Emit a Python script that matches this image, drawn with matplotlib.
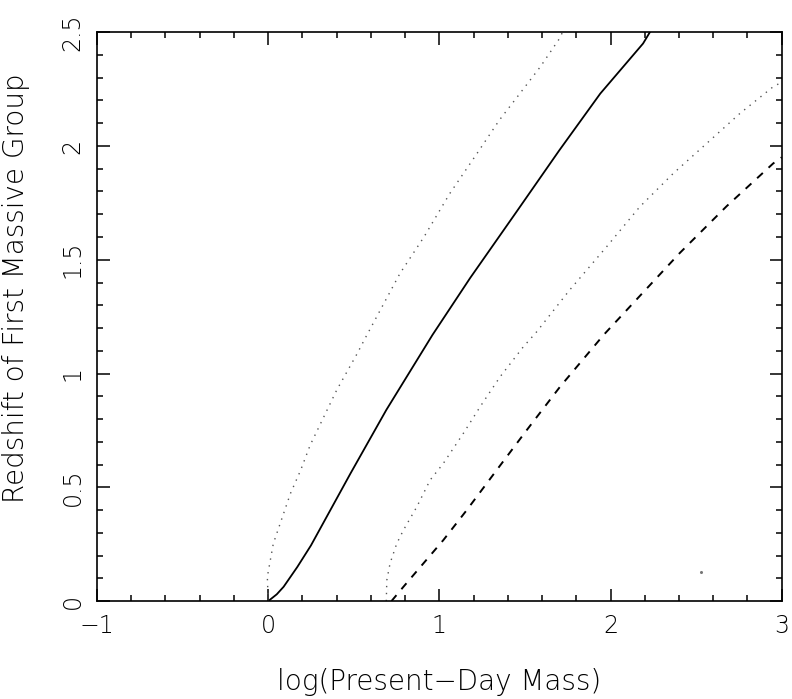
import numpy as np
import matplotlib
matplotlib.use("Agg")
import matplotlib.pyplot as plt
from matplotlib.ticker import MultipleLocator

# values
solid_x = [0.0, 0.05, 0.09, 0.17, 0.25, 0.48, 0.69, 0.96, 1.18, 1.45, 1.70, 1.94, 2.19, 2.23]
solid_y = [0.0, 0.03, 0.063, 0.15, 0.245, 0.56, 0.84, 1.17, 1.42, 1.71, 1.98, 2.23, 2.45, 2.5]

dot_left_x = [0.0, -0.005, 0.03, 0.09, 0.13, 0.19, 0.245, 0.40, 0.52, 0.57,
              0.77, 0.91, 1.06, 1.22, 1.35, 1.47, 1.59, 1.70, 1.72]
dot_left_y = [0.0, 0.107, 0.253, 0.385, 0.473, 0.576, 0.685, 0.927, 1.088, 1.16,
              1.44, 1.60, 1.79, 1.967, 2.113, 2.23, 2.348, 2.47, 2.5]

dot_right_x = [0.69, 0.693, 0.712, 0.751, 0.79, 0.868, 0.946, 1.023, 1.14, 1.238,
               1.354, 1.49, 1.568, 1.76, 1.977, 2.17, 2.366, 2.56, 2.756, 2.95, 3.0]
dot_right_y = [0.0, 0.092, 0.166, 0.253, 0.312, 0.414, 0.532, 0.605, 0.737, 0.854,
               0.985, 1.117, 1.183, 1.366, 1.557, 1.732, 1.879, 2.01, 2.143, 2.26, 2.28]

dash_x = [0.72, 0.79, 0.907, 1.023, 1.16, 1.335, 1.51, 1.705, 1.96, 2.17, 2.405, 2.678, 2.95, 3.0]
dash_y = [0.0, 0.063, 0.166, 0.268, 0.40, 0.576, 0.751, 0.942, 1.17, 1.34, 1.53, 1.735, 1.923, 1.95]

stray_x = [2.53]
stray_y = [0.13]

x_ticks = [-1, 0, 1, 2, 3]
y_ticks = [0, 0.5, 1, 1.5, 2, 2.5]
y_ticklabels = ["0", "0.5", "1", "1.5", "2", "2.5"]

plt.rcParams['font.family'] = ['DejaVu Sans']
plt.rcParams['font.weight'] = 'light'
plt.rcParams['axes.labelweight'] = 'light'

fig = plt.figure(figsize=(7.92, 6.99), dpi=100)
ax = fig.add_axes([0.1225, 0.140, 0.8645, 0.814])

ax.plot(solid_x, solid_y, color='black', lw=1.3)
ax.plot(dot_left_x, dot_left_y, color='#555555', lw=1.0, linestyle=(0, (1, 4)))
ax.plot(dot_right_x, dot_right_y, color='#555555', lw=1.0, linestyle=(0, (1, 4)))
ax.plot(dash_x, dash_y, color='black', lw=1.4, linestyle=(0, (4, 4)))
ax.plot(stray_x, stray_y, 'o', color='#777777', ms=1.2)

ax.set_xlim(-1, 3)
ax.set_ylim(0, 2.5)
ax.set_xticks(x_ticks)
ax.set_xticklabels([str(v).replace('-', '\u2212') for v in x_ticks])
ax.set_yticks(y_ticks)
ax.set_yticklabels(y_ticklabels, rotation=90, va='center')
ax.xaxis.set_minor_locator(MultipleLocator(0.2))
ax.yaxis.set_minor_locator(MultipleLocator(0.1))

ax.tick_params(which='both', direction='in', top=True, right=True, width=1.1, labelsize=17)
ax.tick_params(which='major', length=9, pad=9)
ax.tick_params(which='minor', length=4.5)
for s in ax.spines.values():
    s.set_linewidth(1.2)

ax.set_xlabel('log(Present\u2212Day Mass)', fontsize=20)
ax.set_ylabel('Redshift of First Massive Group', fontsize=20)
ax.xaxis.set_label_coords(0.5, -0.118)
ax.yaxis.set_label_coords(-0.098, 0.55)

fig.savefig("out.png", dpi=100)
